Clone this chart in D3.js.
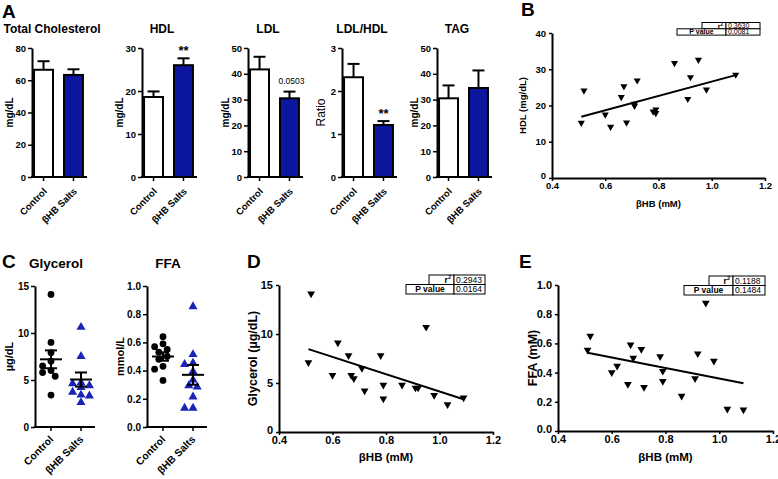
<!DOCTYPE html>
<html><head><meta charset="utf-8">
<script src="https://cdn.jsdelivr.net/npm/d3@7"></script>
<style>body{margin:0;background:#fff}svg{display:block}</style>
</head><body><svg id="c" width="778" height="479"></svg>
<script>
// ---------- DATA ----------
const groups = ["Control", "βHB Salts"];
const barTitles = ["Total Cholesterol", "HDL", "LDL", "LDL/HDL", "TAG"];
const barYLabels = ["mg/dL", "mg/dL", "mg/dL", "Ratio", "mg/dL"];
const barMeans = [[66.5, 63.3], [18.6, 26.0], [41.7, 30.5], [2.32, 1.21], [30.5, 34.5]];
const barErrs = [[5.3, 3.5], [1.3, 1.6], [4.9, 2.6], [0.31, 0.09], [5.0, 6.8]];
const barMax = [80, 30, 50, 3, 50];
const barTickStep = [20, 10, 10, 1, 10];
const barAnnot = ["", "**", "0.0503", "**", ""];

const glyControl = [14.1, 9.0, 7.9, 7.0, 6.5, 6.0, 5.8, 5.4, 3.4];
const glyBHB = [10.7, 7.6, 4.8, 4.7, 4.5, 4.3, 3.8, 3.5, 3.4, 2.7];
const glyMean = [7.2, 5.05];
const glySem = [0.95, 0.75];
const ffaControl = [0.64, 0.59, 0.57, 0.55, 0.53, 0.50, 0.48, 0.43, 0.41, 0.33];
const ffaBHB = [0.86, 0.52, 0.46, 0.45, 0.40, 0.34, 0.30, 0.29, 0.22, 0.14, 0.14];
const ffaMean = [0.50, 0.37];
const ffaSem = [0.03, 0.07];

const hdlX = [0.51, 0.52, 0.60, 0.62, 0.66, 0.67, 0.68, 0.71, 0.71, 0.72, 0.78, 0.79, 0.79, 0.86, 0.91, 0.92, 0.95, 0.98, 1.09];
const hdlY = [15.2, 24.1, 17.5, 14.1, 22.3, 25.3, 15.3, 20.5, 19.9, 26.9, 18.3, 18.9, 17.9, 31.7, 21.8, 27.8, 32.6, 24.4, 28.5];
const bhbX = [0.51, 0.52, 0.60, 0.62, 0.66, 0.67, 0.68, 0.71, 0.72, 0.78, 0.79, 0.79, 0.86, 0.91, 0.92, 0.95, 0.98, 1.03, 1.09];
const glyY = [7.1, 14.1, 5.8, 9.1, 7.8, 5.8, 5.45, 6.5, 4.2, 7.8, 4.8, 3.4, 4.8, 4.5, 4.5, 10.7, 3.75, 2.8, 3.5];
const ffaY = [0.555, 0.65, 0.40, 0.445, 0.32, 0.59, 0.50, 0.56, 0.30, 0.51, 0.41, 0.34, 0.24, 0.36, 0.53, 0.877, 0.48, 0.15, 0.145];
// regression fits: [intercept, slope]
const fitB = [6.8, 19.8];
const fitD = [12.96, -8.83];
const fitE = [0.721, -0.362];
const statsB = ["0.3630", "0.0081"];
const statsD = ["0.2943", "0.0164"];
const statsE = ["0.1188", "0.1484"];
const xTicks = [0.4, 0.6, 0.8, 1.0, 1.2];

// ---------- DRAW ----------
const FONT = '"Liberation Sans", Arial, Helvetica, sans-serif';
const BLUE = "#0d169e";
const TRI_BLUE = "#1a23b8";
const svg = d3.select("#c").attr("font-family", FONT);
svg.append("rect").attr("width", 778).attr("height", 479).attr("fill", "#fff");

function styleAxis(g, fs, bold = true) {
  g.attr("font-family", FONT).attr("font-size", fs).attr("font-weight", bold ? "bold" : "normal");
  g.select(".domain").attr("stroke", "#000").attr("stroke-width", 2);
  g.selectAll(".tick line").attr("stroke", "#000").attr("stroke-width", 1.5);
  g.selectAll(".tick text").attr("fill", "#000");
}

function letter(t, x, y) {
  svg.append("text").attr("x", x).attr("y", y).text(t)
    .attr("font-size", 19).attr("font-weight", "bold");
}

function rotLabels(g, x, axisY, dx, dy, fs) {
  groups.forEach(d => {
    g.append("text").text(d)
      .attr("transform", `translate(${x(d) + dx},${axisY + dy}) rotate(-45)`)
      .attr("text-anchor", "end").attr("font-size", fs).attr("font-weight", "bold");
  });
}

// Panel A bar charts
const barAxisX = [32, 142, 248, 342, 437];
const barTop = 48, barBot = 177;
barTitles.forEach((title, i) => {
  const ax = barAxisX[i];
  const g = svg.append("g");
  const y = d3.scaleLinear().domain([0, barMax[i]]).range([barBot, barTop]);
  const x = d3.scaleBand().domain(groups).range([ax, ax + 53]).paddingInner(0.3).paddingOuter(0.035);
  const cx = d => x(d) + x.bandwidth() / 2;
  groups.forEach((gname, j) => {
    const top = barMeans[i][j] + barErrs[i][j];
    g.append("line").attr("x1", cx(gname)).attr("x2", cx(gname))
      .attr("y1", y(barMeans[i][j])).attr("y2", y(top)).attr("stroke", "#000").attr("stroke-width", 2);
    g.append("line").attr("x1", cx(gname) - 6).attr("x2", cx(gname) + 6)
      .attr("y1", y(top)).attr("y2", y(top)).attr("stroke", "#000").attr("stroke-width", 2);
  });
  g.selectAll("rect.bar").data(groups).join("rect")
    .attr("x", d => x(d) + 1).attr("width", x.bandwidth() - 2)
    .attr("y", (d, j) => y(barMeans[i][j]))
    .attr("height", (d, j) => barBot - y(barMeans[i][j]))
    .attr("fill", (d, j) => j === 0 ? "#fff" : BLUE)
    .attr("stroke", "#000").attr("stroke-width", 2);
  const ya = g.append("g").attr("transform", `translate(${ax},0)`)
    .call(d3.axisLeft(y).tickValues(d3.range(0, barMax[i] + 1e-9, barTickStep[i]))
      .tickFormat(d3.format("d")).tickSize(4).tickPadding(2).tickSizeOuter(0));
  styleAxis(ya, 9.5);
  g.append("line").attr("x1", ax - 1).attr("x2", ax + 55).attr("y1", barBot).attr("y2", barBot)
    .attr("stroke", "#000").attr("stroke-width", 2);
  groups.forEach(d => g.append("line").attr("x1", cx(d)).attr("x2", cx(d))
    .attr("y1", barBot).attr("y2", barBot + 4).attr("stroke", "#000").attr("stroke-width", 1.5));
  rotLabels(g, d => cx(d), barBot, 4, 15, 9.5);
  g.append("text").attr("x", ax + 20).attr("y", 33).attr("text-anchor", "middle")
    .attr("font-size", 12).attr("font-weight", "bold").text(title);
  const isRatio = barYLabels[i] === "Ratio";
  g.append("text").attr("transform", `translate(${ax - (isRatio ? 21 : 23)},${(barTop + barBot) / 2}) rotate(-90)`)
    .attr("text-anchor", "middle").attr("dominant-baseline", "central")
    .attr("font-size", isRatio ? 12 : 10).attr("font-weight", isRatio ? "normal" : "bold").text(barYLabels[i]);
  if (barAnnot[i]) {
    const top = y(barMeans[i][1] + barErrs[i][1]);
    const isStar = barAnnot[i] === "**";
    g.append("text").attr("x", cx(groups[1]) + (isStar ? 0 : 2)).attr("y", isStar ? top - 3 : top - 8)
      .attr("text-anchor", "middle")
      .attr("font-size", isStar ? 13 : 8.5).attr("font-weight", isStar ? "bold" : "normal")
      .text(barAnnot[i]);
  }
});
letter("A", 2, 18);

// Panel C dot plots
function dotPanel(opt) {
  const g = svg.append("g");
  const y = d3.scaleLinear().domain([0, opt.max]).range([opt.bot, opt.top]);
  const x = d3.scalePoint().domain(groups).range([opt.ax + 16, opt.ax + 46]);
  const r = 3.4;
  [opt.ctrl, opt.bhb].forEach((vals, j) => {
    const cx0 = x(groups[j]);
    const placed = [];
    const sorted = vals.slice().sort((a, b) => b - a);
    sorted.forEach(v => {
      const py = y(v);
      const offs = [0, -1, 1, -2, 2, -3, 3];
      let px = cx0;
      for (const k of offs) {
        const tx = cx0 + k * 4.2;
        if (placed.every(p => Math.hypot(p[0] - tx, p[1] - py) > 2 * r * 0.95)) { px = tx; break; }
      }
      placed.push([px, py]);
    });
    placed.forEach(p => {
      if (j === 0) {
        g.append("circle").attr("cx", p[0]).attr("cy", p[1]).attr("r", r).attr("fill", "#000");
      } else {
        g.append("path").attr("d", d3.symbol(d3.symbolTriangle, 36)())
          .attr("transform", `translate(${p[0]},${p[1] + 0.8})`).attr("fill", TRI_BLUE);
      }
    });
    const m = opt.mean[j], s = opt.sem[j];
    g.append("line").attr("x1", cx0 - 11).attr("x2", cx0 + 11).attr("y1", y(m)).attr("y2", y(m))
      .attr("stroke", "#000").attr("stroke-width", 2);
    g.append("line").attr("x1", cx0).attr("x2", cx0).attr("y1", y(m - s)).attr("y2", y(m + s))
      .attr("stroke", "#000").attr("stroke-width", 2);
    [m - s, m + s].forEach(v => g.append("line").attr("x1", cx0 - 6).attr("x2", cx0 + 6)
      .attr("y1", y(v)).attr("y2", y(v)).attr("stroke", "#000").attr("stroke-width", 2));
  });
  const ya = g.append("g").attr("transform", `translate(${opt.ax},0)`)
    .call(d3.axisLeft(y).tickValues(d3.range(0, opt.max + 1e-9, opt.step))
      .tickFormat(d3.format(opt.fmt)).tickSize(4).tickPadding(2).tickSizeOuter(0));
  styleAxis(ya, 10);
  g.append("line").attr("x1", opt.ax - 1).attr("x2", opt.ax + 60).attr("y1", opt.bot).attr("y2", opt.bot)
    .attr("stroke", "#000").attr("stroke-width", 2);
  groups.forEach(d => g.append("line").attr("x1", x(d)).attr("x2", x(d))
    .attr("y1", opt.bot).attr("y2", opt.bot + 4).attr("stroke", "#000").attr("stroke-width", 1.5));
  rotLabels(g, x, opt.bot, 3, 13, 10.3);
  g.append("text").attr("x", opt.ax + opt.titleDx).attr("y", 268).attr("text-anchor", "middle")
    .attr("font-size", 13.5).attr("font-weight", "bold").text(opt.title);
  g.append("text").attr("transform", `translate(${opt.ax - opt.labDx},${(opt.top + opt.bot) / 2}) rotate(-90)`)
    .attr("text-anchor", "middle").attr("dominant-baseline", "central")
    .attr("font-size", 11).attr("font-weight", "bold").text(opt.ylabel);
}
dotPanel({ ax: 35, top: 286, bot: 427, max: 15, step: 5, fmt: "d", ctrl: glyControl, bhb: glyBHB,
  mean: glyMean, sem: glySem, title: "Glycerol", titleDx: 21, ylabel: "µg/dL", labDx: 26 });
dotPanel({ ax: 147, top: 286, bot: 427, max: 1.0, step: 0.2, fmt: ".1f", ctrl: ffaControl, bhb: ffaBHB,
  mean: ffaMean, sem: ffaSem, title: "FFA", titleDx: 21, ylabel: "mmol/L", labDx: 27 });
letter("C", 2, 268);

// Scatter panels
function scatter(opt) {
  const g = svg.append("g");
  const x = d3.scaleLinear().domain([0.4, 1.2]).range([opt.ax, opt.ar]);
  const y = d3.scaleLinear().domain([0, opt.ymax]).range([opt.bot, opt.top]);
  const xa = g.append("g").attr("transform", `translate(0,${opt.bot})`)
    .call(d3.axisBottom(x).tickValues(xTicks).tickFormat(d3.format(".1f")).tickSize(3).tickPadding(1).tickSizeOuter(0));
  styleAxis(xa, opt.tfs);
  const ya = g.append("g").attr("transform", `translate(${opt.ax},0)`)
    .call(d3.axisLeft(y).tickValues(d3.range(0, opt.ymax + 1e-9, opt.ystep)).tickFormat(d3.format(opt.fmt))
      .tickSize(3).tickPadding(3).tickSizeOuter(0));
  styleAxis(ya, opt.tfs);
  // nudge the zero label up slightly so it clears the x tick labels
  ya.selectAll(".tick text").filter(d => d === 0).attr("dy", "0.1em");
  opt.xs.forEach((xv, i) => {
    g.append("path").attr("d", d3.symbol(d3.symbolTriangle, opt.ms)())
      .attr("transform", `translate(${x(xv)},${y(opt.ys[i])}) rotate(180)`).attr("fill", "#000");
  });
  const [x0, x1] = d3.extent(opt.xs);
  g.append("line").attr("x1", x(x0)).attr("x2", x(x1))
    .attr("y1", y(opt.fit[0] + opt.fit[1] * x0)).attr("y2", y(opt.fit[0] + opt.fit[1] * x1))
    .attr("stroke", "#000").attr("stroke-width", 2);
  g.append("text").attr("x", (opt.ax + opt.ar) / 2).attr("y", opt.xlabY).attr("text-anchor", "middle")
    .attr("dominant-baseline", "central").attr("font-size", opt.lfs).attr("font-weight", "bold").text("βHB (mM)");
  g.append("text").attr("transform", `translate(${opt.ylabX},${(opt.top + opt.bot) / 2}) rotate(-90)`)
    .attr("text-anchor", "middle").attr("dominant-baseline", "central")
    .attr("font-size", opt.ylfs).attr("font-weight", "bold").text(opt.ylabel);
  const t = opt.tab;
  const right = opt.ar - t.dr, top = opt.top - t.dt;
  const v0 = right - t.vw;
  const tg = g.append("g").attr("font-size", t.fs);
  const cell = (x0, y0, w, h) => tg.append("rect").attr("x", x0).attr("y", y0).attr("width", w).attr("height", h)
    .attr("fill", "#fff").attr("stroke", "#000").attr("stroke-width", 1);
  cell(v0 - t.rw, top, t.rw, t.rh); cell(v0, top, t.vw, t.rh);
  cell(v0 - t.pw, top + t.rh, t.pw, t.rh); cell(v0, top + t.rh, t.vw, t.rh);
  const r2 = tg.append("text").attr("x", v0 - 3).attr("y", top + t.rh / 2).attr("text-anchor", "end")
    .attr("dominant-baseline", "central").attr("font-weight", "bold");
  r2.append("tspan").text("r");
  r2.append("tspan").text("2").attr("font-size", t.fs * 0.65).attr("dy", -t.fs * 0.3);
  tg.append("text").attr("x", v0 - t.pw / 2).attr("y", top + t.rh * 1.5).attr("text-anchor", "middle")
    .attr("dominant-baseline", "central").attr("font-weight", "bold").text("P value");
  opt.stats.forEach((s, i) => tg.append("text").attr("x", v0 + 2).attr("y", top + t.rh * (i + 0.5))
    .attr("dominant-baseline", "central").text(s));
}
scatter({ ax: 552, ar: 765, top: 33, bot: 178, ymax: 40, ystep: 10, fmt: "d", xs: hdlX, ys: hdlY, fit: fitB,
  tfs: 9.5, lfs: 9.5, ylfs: 9.5, xlabY: 203, ylabX: 522, ylabel: "HDL (mg/dL)", ms: 22, stats: statsB,
  tab: { dr: 5, dt: 10.5, rh: 6.3, vw: 34, rw: 24, pw: 49, fs: 7 } });
scatter({ ax: 279, ar: 493, top: 285, bot: 432, ymax: 15, ystep: 5, fmt: "d", xs: bhbX, ys: glyY, fit: fitD,
  tfs: 11, lfs: 11.5, ylfs: 12.5, xlabY: 457, ylabX: 253, ylabel: "Glycerol (µg/dL)", ms: 26, stats: statsD,
  tab: { dr: 8, dt: 10, rh: 9.5, vw: 31, rw: 25, pw: 48, fs: 8.5 } });
scatter({ ax: 558, ar: 773, top: 285, bot: 431, ymax: 1.0, ystep: 0.2, fmt: ".1f", xs: bhbX, ys: ffaY, fit: fitE,
  tfs: 11, lfs: 11.5, ylfs: 12.5, xlabY: 457, ylabX: 533, ylabel: "FFA (mM)", ms: 26, stats: statsE,
  tab: { dr: 8, dt: 9, rh: 9.5, vw: 32, rw: 24, pw: 49, fs: 8.5 } });
letter("B", 521, 16);
letter("D", 247, 268);
letter("E", 519, 268);
</script>
</body></html>
